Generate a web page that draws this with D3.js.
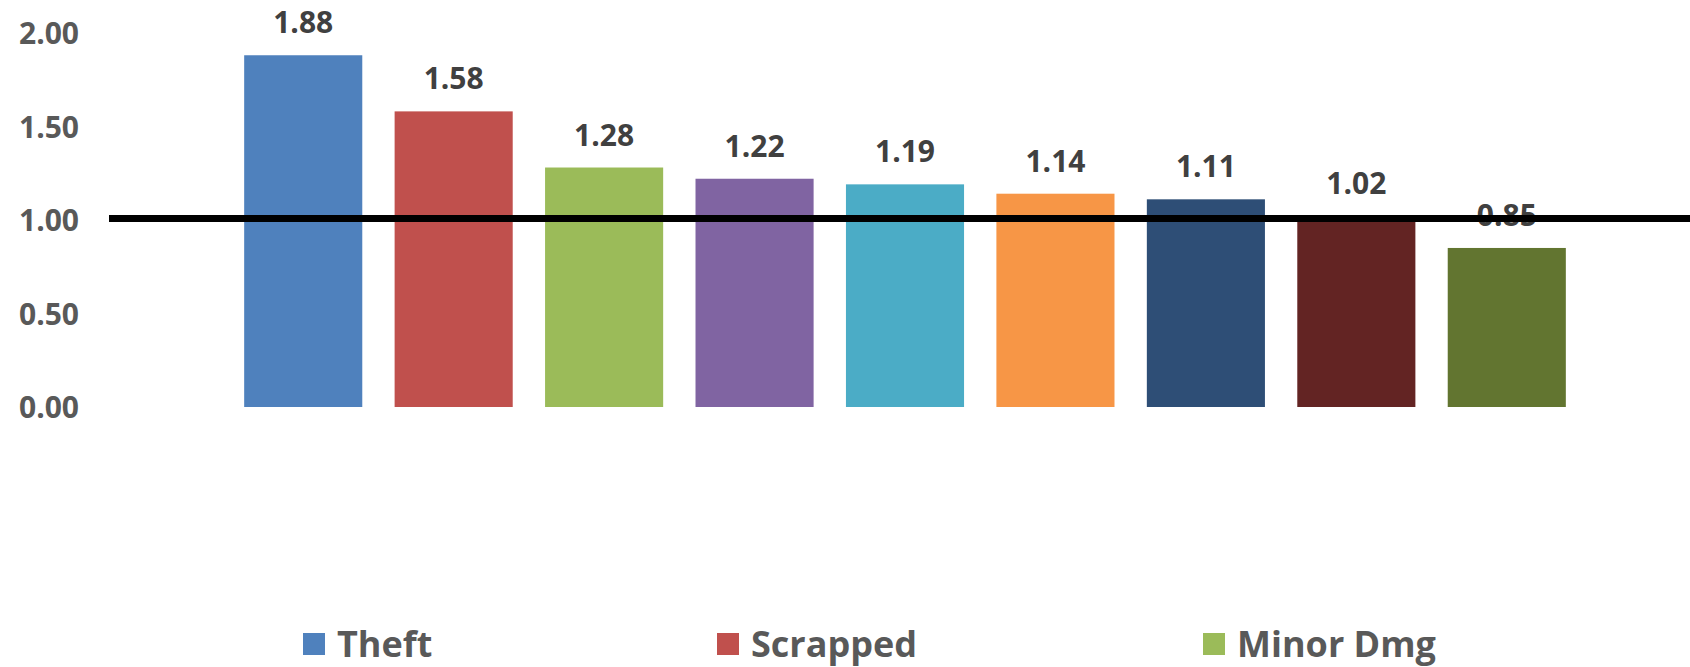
<!DOCTYPE html>
<html>
<head>
<meta charset="utf-8">
<script src="https://cdn.jsdelivr.net/npm/d3@7"></script>
<style>
  html, body { margin: 0; padding: 0; background: #ffffff; }
  svg { display: block; }
  text { font-family: "Open Sans", sans-serif; font-weight: 700; }
</style>
</head>
<body>
<svg id="chart" width="1690" height="667"></svg>
<script>
// Claim ratio per category
const categories = ["Theft", "Scrapped", "Minor Dmg", "Cat 4", "Cat 5", "Cat 6", "Cat 7", "Cat 8", "Cat 9"];
const values = [1.88, 1.58, 1.28, 1.22, 1.19, 1.14, 1.11, 1.02, 0.85];
const colors = ["#4F81BD", "#C0504D", "#9BBB59", "#8064A2", "#4BACC6", "#F79646", "#2E4E76", "#632423", "#627530"];
const yTicks = [0, 0.5, 1, 1.5, 2];
const referenceValue = 1.0;
const legendItems = ["Theft", "Scrapped", "Minor Dmg"];
const legendX = [303, 717, 1203];

const svg = d3.select("#chart");

const x = d3.scaleBand()
  .domain(categories)
  .range([228, 1582])
  .paddingInner(0.215)
  .paddingOuter(0.1075);

const y = d3.scaleLinear()
  .domain([0, 2])
  .range([407, 32.8]);

// Y axis labels only (no axis line or ticks)
const yAxis = d3.axisLeft(y)
  .tickValues(yTicks)
  .tickFormat(d3.format(".2f"))
  .tickSize(0)
  .tickPadding(0);

const yg = svg.append("g")
  .attr("transform", "translate(79,0)")
  .call(yAxis);
yg.select(".domain").remove();
yg.selectAll("text")
  .attr("font-family", "Open Sans, sans-serif")
  .attr("font-weight", 700)
  .attr("font-size", 30)
  .attr("fill", "#595959")
  .attr("dy", "0.36em");

// Bars
svg.append("g")
  .selectAll("rect")
  .data(values)
  .join("rect")
  .attr("x", (d, i) => x(categories[i]))
  .attr("width", x.bandwidth())
  .attr("y", d => y(d))
  .attr("height", d => y(0) - y(d))
  .attr("fill", (d, i) => colors[i]);

// Value labels
svg.append("g")
  .selectAll("text")
  .data(values)
  .join("text")
  .attr("x", (d, i) => x(categories[i]) + x.bandwidth() / 2)
  .attr("y", d => y(d) - 22)
  .attr("text-anchor", "middle")
  .attr("font-size", 30)
  .attr("fill", "#404040")
  .text(d => d3.format(".2f")(d));

// Reference line at 1.00
svg.append("line")
  .attr("x1", 109)
  .attr("x2", 1690)
  .attr("y1", y(referenceValue) - 1.5)
  .attr("y2", y(referenceValue) - 1.5)
  .attr("stroke", "#000000")
  .attr("stroke-width", 7);

// Legend
const legend = svg.append("g")
  .selectAll("g")
  .data(legendItems)
  .join("g")
  .attr("transform", (d, i) => `translate(${legendX[i]},633)`);

legend.append("rect")
  .attr("width", 22)
  .attr("height", 22)
  .attr("fill", (d, i) => colors[i]);

legend.append("text")
  .attr("x", 34)
  .attr("y", 24)
  .attr("font-size", 36)
  .attr("fill", "#595959")
  .text(d => d);
</script>
</body>
</html>
